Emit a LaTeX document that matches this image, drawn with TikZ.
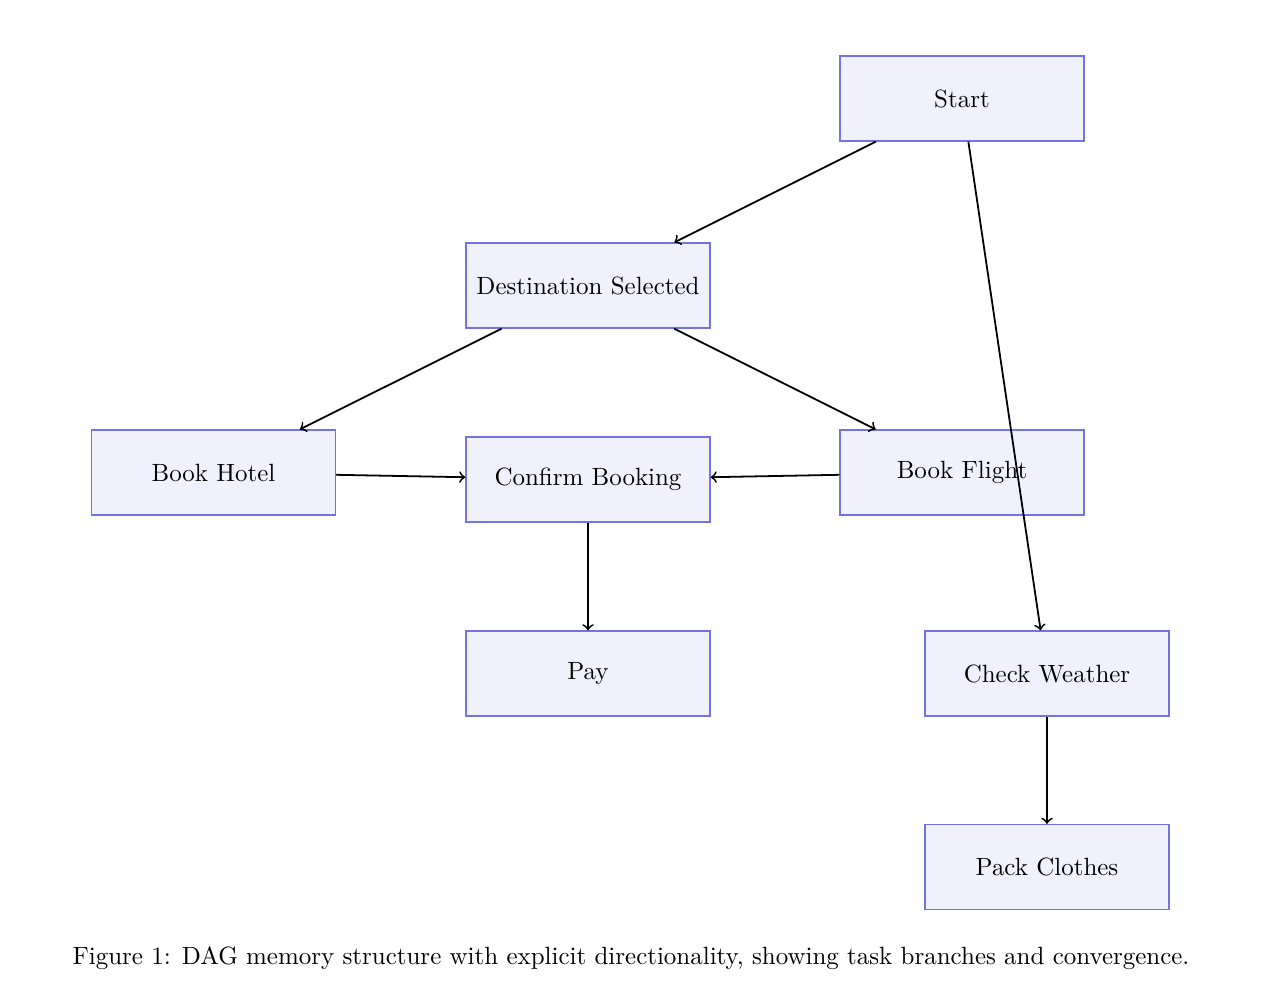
\documentclass[tikz,border=0pt]{standalone}
\usetikzlibrary{arrows}
\definecolor{boxline}{RGB}{115,115,225}
\definecolor{boxfill}{RGB}{241,241,253}
\begin{document}
\begin{tikzpicture}[x=0.390625pt,y=-0.390625pt,
  taskbox/.style={draw=boxline,fill=boxfill,line width=0.5pt,minimum width=95.3pt,minimum height=33.2pt,inner sep=2pt,font=\fontsize{9.75}{12}\selectfont},
  flow/.style={->,>=to,line width=0.7pt,black}]
\useasboundingbox (0,0) rectangle (1276,1000);
\node[taskbox] (start) at (962,98.5) {Start};
\node[taskbox] (dest) at (588,285.5) {Destination Selected};
\node[taskbox] (hotel) at (213.5,472.5) {Book Hotel};
\node[taskbox] (confirm) at (588,479.5) {Confirm Booking};
\node[taskbox] (flight) at (962,472.5) {Book Flight};
\node[taskbox] (pay) at (588,673.5) {Pay};
\node[taskbox] (weather) at (1047,673.5) {Check Weather};
\node[taskbox] (pack) at (1047,867) {Pack Clothes};
\draw[flow] (start) -- (dest);
\draw[flow] (start) -- (weather);
\draw[flow] (dest) -- (hotel);
\draw[flow] (dest) -- (flight);
\draw[flow] (hotel) -- (confirm);
\draw[flow] (flight) -- (confirm);
\draw[flow] (confirm) -- (pay);
\draw[flow] (weather) -- (pack);
\node[inner sep=0pt,font=\fontsize{9.75}{12}\selectfont] (caption) at (631,958) {Figure 1: DAG memory structure with explicit directionality, showing task branches and convergence.};
\end{tikzpicture}
\end{document}
